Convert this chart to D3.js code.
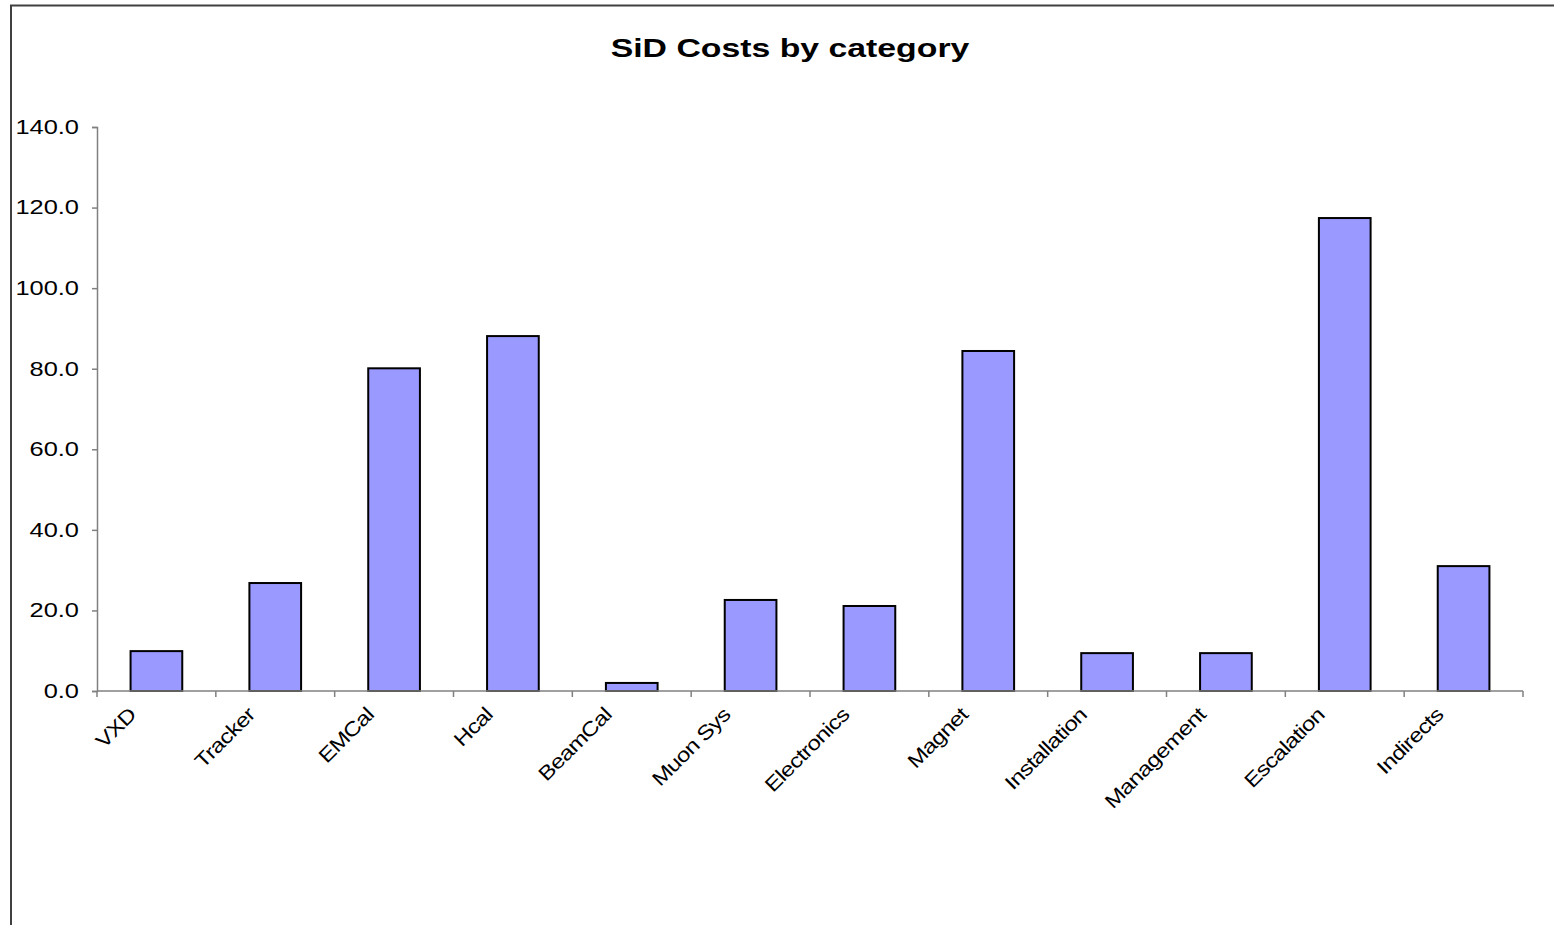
<!DOCTYPE html>
<html>
<head>
<meta charset="utf-8">
<script src="https://cdn.jsdelivr.net/npm/d3@7"></script>
<style>
  html, body { margin: 0; padding: 0; background: #ffffff; }
  svg { display: block; }
</style>
</head>
<body>
<svg id="chart" width="1554" height="925"></svg>
<script>
// Cost categories and their totals
const categories = ["VXD", "Tracker", "EMCal", "Hcal", "BeamCal", "Muon Sys", "Electronics",
  "Magnet", "Installation", "Management", "Escalation", "Indirects"];
const costs = [9.9, 26.8, 80.1, 88.1, 2.0, 22.6, 21.1, 84.4, 9.4, 9.4, 117.4, 31.0];
const yTicks = [0, 20, 40, 60, 80, 100, 120, 140];
const chartTitle = "SiD Costs by category";

const svg = d3.select("#chart");
const font = "'Liberation Sans', Arial, sans-serif";

// Outer frame (left and top edges)
svg.append("path")
  .attr("d", "M11,925 L11,5.5 L1554,5.5")
  .attr("fill", "none")
  .attr("stroke", "#404040")
  .attr("stroke-width", 2);

const plot = { left: 97, right: 1523, top: 127, bottom: 691 };

const x = d3.scaleBand()
  .domain(categories)
  .range([plot.left, plot.right])
  .paddingInner(0.565)
  .paddingOuter(0.2825);

const y = d3.scaleLinear()
  .domain([0, 140])
  .range([plot.bottom, plot.top]);

// Title, drawn with horizontally widened glyphs
svg.append("text")
  .attr("transform", "translate(790,57) scale(1.3,1)")
  .attr("text-anchor", "middle")
  .attr("font-family", font)
  .attr("font-weight", "bold")
  .attr("font-size", 26)
  .text(chartTitle);

// Bars
svg.append("g")
  .selectAll("rect")
  .data(costs)
  .join("rect")
  .attr("x", (d, i) => x(categories[i]))
  .attr("y", d => y(d))
  .attr("width", x.bandwidth())
  .attr("height", d => y(0) - y(d))
  .attr("fill", "#9999ff")
  .attr("stroke", "#000000")
  .attr("stroke-width", 2);

// Y axis
const yAxis = svg.append("g")
  .attr("transform", `translate(${plot.left},0)`)
  .call(d3.axisLeft(y).tickValues(yTicks).tickFormat(d3.format(".1f")).tickSize(5).tickPadding(13));
yAxis.select(".domain").attr("stroke", "#808080").attr("stroke-width", 1.5);
yAxis.selectAll(".tick line").attr("stroke", "#808080").attr("stroke-width", 1.5);
yAxis.selectAll(".tick text")
  .attr("x", null)
  .attr("transform", "translate(-18,0) scale(1.27,1)")
  .attr("font-family", font)
  .attr("font-size", 20)
  .attr("fill", "#000000");

// X axis: ticks sit on category boundaries
const xAxis = svg.append("g")
  .attr("transform", `translate(0,${plot.bottom})`);
xAxis.append("line")
  .attr("x1", plot.left).attr("x2", plot.right)
  .attr("stroke", "#808080").attr("stroke-width", 1.5);
const boundaries = d3.range(categories.length + 1).map(i => plot.left + i * x.step());
xAxis.selectAll("line.tick")
  .data(boundaries)
  .join("line")
  .attr("class", "tick")
  .attr("x1", d => d).attr("x2", d => d)
  .attr("y1", 0).attr("y2", 6)
  .attr("stroke", "#808080").attr("stroke-width", 1.5);

// Rotated category labels
xAxis.selectAll("text")
  .data(categories)
  .join("text")
  .attr("transform", d => `translate(${x(d) + x.bandwidth() / 2 - 24},20) rotate(-45) scale(1.2,1)`)
  .attr("text-anchor", "end")
  .attr("dy", "0.35em")
  .attr("font-family", font)
  .attr("font-size", 20)
  .attr("letter-spacing", "-0.6px")
  .attr("fill", "#000000")
  .text(d => d);
</script>
</body>
</html>
